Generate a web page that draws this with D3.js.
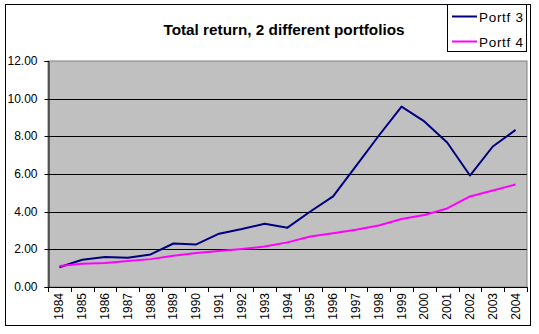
<!DOCTYPE html>
<html>
<head>
<meta charset="utf-8">
<script src="https://cdn.jsdelivr.net/npm/d3@7"></script>
<style>
  body { margin: 0; background: #fff; }
  svg text { font-family: "Liberation Sans", Arial, sans-serif; fill: #000; }
</style>
</head>
<body>
<svg id="chart" width="539" height="334"></svg>
<script>
// Years on the category axis
const years = ["1984","1985","1986","1987","1988","1989","1990","1991","1992","1993",
               "1994","1995","1996","1997","1998","1999","2000","2001","2002","2003","2004"];
// Cumulative total return of each portfolio
const portf3 = [1.05,1.45,1.59,1.55,1.73,2.31,2.26,2.83,3.08,3.36,3.15,4.01,4.81,6.42,8.03,9.58,8.79,7.67,5.92,7.46,8.34];
const portf4 = [1.11,1.24,1.27,1.38,1.48,1.66,1.80,1.91,2.02,2.15,2.37,2.68,2.86,3.04,3.27,3.61,3.82,4.17,4.81,5.12,5.44];
const yTicks = [0, 2, 4, 6, 8, 10, 12];
const seriesNames = ["Portf 3", "Portf 4"];
const seriesColors = ["#000080", "#ff00ff"];

const svg = d3.select("#chart");

// Outer chart frame
svg.append("rect")
  .attr("x", 5.5).attr("y", 4.5).attr("width", 525).attr("height", 321)
  .attr("fill", "#fff").attr("stroke", "#000").attr("stroke-width", 1);

const plot = { left: 48, right: 527, top: 61, bottom: 287 };

const x = d3.scaleBand().domain(years).range([plot.left, plot.right]).paddingInner(0).paddingOuter(0);
const y = d3.scaleLinear().domain([0, 12]).range([plot.bottom, plot.top]);

// Plot area
svg.append("rect")
  .attr("x", plot.left).attr("y", plot.top)
  .attr("width", plot.right - plot.left).attr("height", plot.bottom - plot.top)
  .attr("fill", "#c0c0c0").attr("stroke", "#808080").attr("stroke-width", 1);

// Horizontal gridlines
svg.append("g")
  .selectAll("line")
  .data(yTicks.filter(d => d > 0 && d < 12))
  .join("line")
  .attr("x1", plot.left).attr("x2", plot.right)
  .attr("y1", d => Math.round(y(d)) + 0.5).attr("y2", d => Math.round(y(d)) + 0.5)
  .attr("stroke", "#000").attr("stroke-width", 1);

// Y axis
const yAxis = d3.axisLeft(y).tickValues(yTicks).tickFormat(d3.format(".2f")).tickSize(4).tickPadding(7);
const gy = svg.append("g")
  .attr("transform", `translate(${plot.left + 0.5},0)`)
  .call(yAxis);
gy.selectAll("text").style("font-size", "12px");
gy.selectAll(".tick").attr("transform", d => `translate(0,${Math.round(y(d)) + 0.5})`);

// X axis: ticks sit on the category boundaries
const boundaries = years.map(d => x(d)).concat([plot.right]);
const gx = svg.append("g");
gx.append("line")
  .attr("x1", plot.left).attr("x2", plot.right)
  .attr("y1", plot.bottom + 0.5).attr("y2", plot.bottom + 0.5)
  .attr("stroke", "#000");
gx.selectAll("line.tick")
  .data(boundaries)
  .join("line")
  .attr("class", "tick")
  .attr("x1", d => Math.round(d) + 0.5).attr("x2", d => Math.round(d) + 0.5)
  .attr("y1", plot.bottom).attr("y2", plot.bottom + 5)
  .attr("stroke", "#000");
gx.selectAll("text")
  .data(years)
  .join("text")
  .attr("transform", d => `translate(${x(d) + x.bandwidth() / 2 + 4},${plot.bottom + 6}) rotate(-90)`)
  .attr("text-anchor", "end")
  .style("font-size", "12px")
  .text(d => d);

// Series lines
const line = d3.line()
  .x((d, i) => x(years[i]) + x.bandwidth() / 2)
  .y(d => y(d));

[portf3, portf4].forEach((vals, k) => {
  svg.append("path")
    .datum(vals)
    .attr("d", line)
    .attr("fill", "none")
    .attr("stroke", seriesColors[k])
    .attr("stroke-width", 2)
    .attr("stroke-linejoin", "round");
});

// Title
svg.append("text")
  .attr("x", 284).attr("y", 35)
  .attr("text-anchor", "middle")
  .style("font-size", "15.3px").style("font-weight", "bold")
  .text("Total return, 2 different portfolios");

// Legend
const legend = svg.append("g");
legend.append("rect")
  .attr("x", 447.5).attr("y", 4.5).attr("width", 79).attr("height", 47)
  .attr("fill", "#fff").attr("stroke", "#000");
seriesNames.forEach((name, k) => {
  const cy = 16.5 + k * 25;
  legend.append("line")
    .attr("x1", 452).attr("x2", 477)
    .attr("y1", cy).attr("y2", cy)
    .attr("stroke", seriesColors[k]).attr("stroke-width", 2);
  legend.append("text")
    .attr("x", 479).attr("y", cy + 5)
    .style("font-size", "13.5px")
    .style("letter-spacing", "0.7px")
    .text(name);
});
</script>
</body>
</html>
